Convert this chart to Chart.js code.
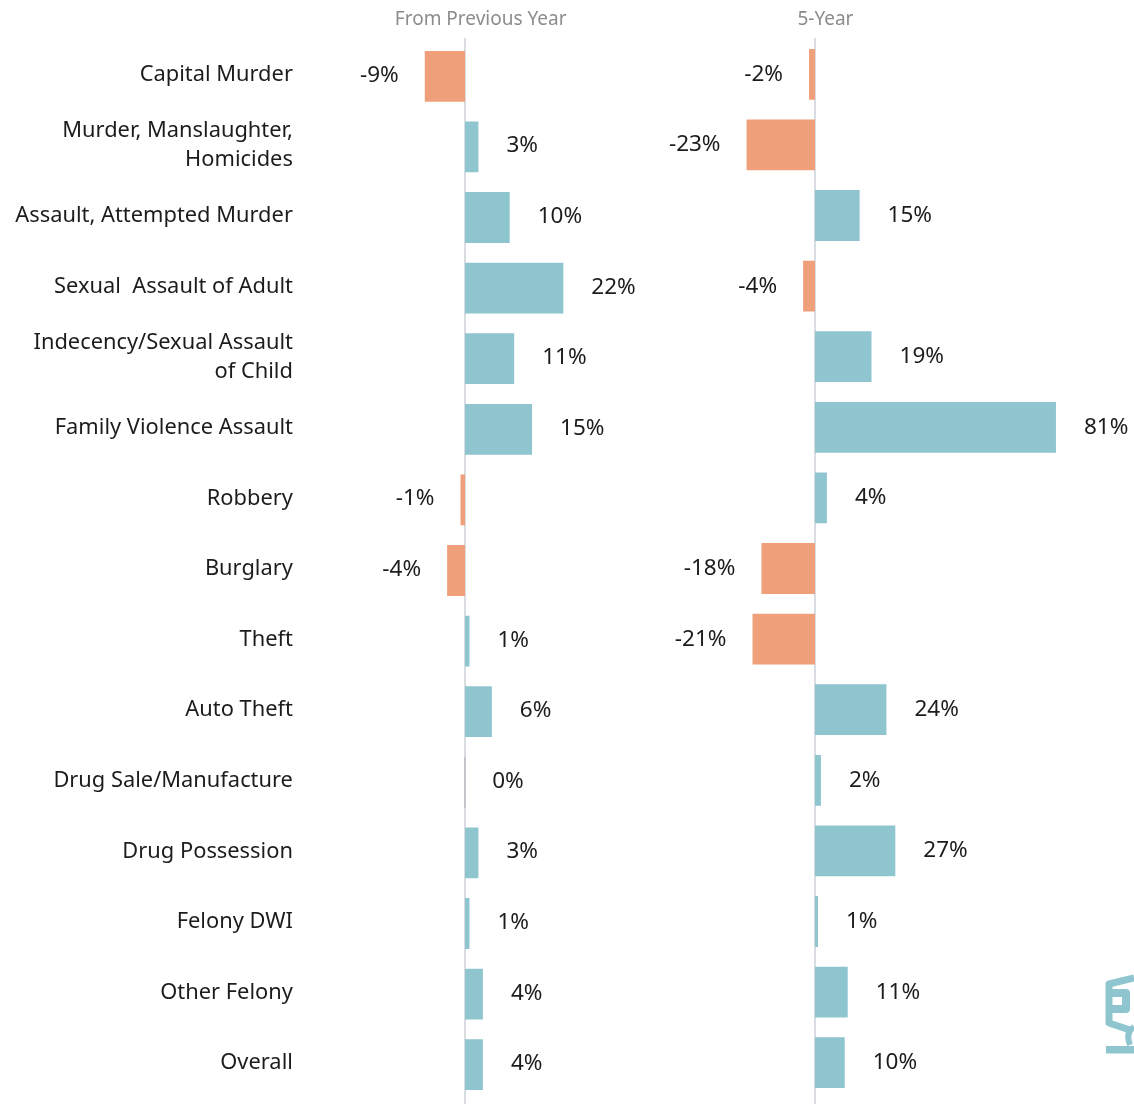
<!DOCTYPE html>
<html>
<head>
<meta charset="utf-8">
<script src="https://cdn.jsdelivr.net/npm/chart.js@4"></script>
<style>
html,body{margin:0;padding:0;background:#fff;overflow:hidden}
#wrap{position:relative;width:1134px;height:1104px}
canvas{position:absolute;top:0}
#logo{position:absolute;left:1100px;top:965px}
</style>
</head>
<body>
<div id="wrap">
<canvas id="c1" width="640" height="1104" style="left:0"></canvas>
<canvas id="c2" width="634" height="1104" style="left:500px"></canvas>
<svg id="logo" width="34" height="95" viewBox="0 0 34 95">
  <g fill="none" stroke="#8fc5cf" stroke-linejoin="round">
    <path stroke-width="7" d="M34 13 L9 19 L9 58 L30 65"/>
    <path stroke-width="8" d="M12 28 L26 28 L26 44 L12 44"/>
    <path stroke-width="6" d="M34 62 Q25 67 30 80"/>
  </g>
  <rect x="6" y="81" width="28" height="7.5" fill="#8fc5cf"/>
</svg>
</div>
<script>
const categories = [
  "Capital Murder",
  ["Murder, Manslaughter,", "Homicides"],
  "Assault, Attempted Murder",
  "Sexual  Assault of Adult",
  ["Indecency/Sexual Assault", "of Child"],
  "Family Violence Assault",
  "Robbery",
  "Burglary",
  "Theft",
  "Auto Theft",
  "Drug Sale/Manufacture",
  "Drug Possession",
  "Felony DWI",
  "Other Felony",
  "Overall"
];
const fromPreviousYear = [-9, 3, 10, 22, 11, 15, -1, -4, 1, 6, 0, 3, 1, 4, 4];
const fiveYear = [-2, -23, 15, -4, 19, 81, 4, -18, -21, 24, 2, 27, 1, 11, 10];

const TEAL = "#8fc5cf", ORANGE = "#ef9f7a", ZERO = "#bdbfc3", AXIS = "#d9dce1";
const INK = "#1c1c1c", MUTED = "#8c8c8c";
const FAMILY = '"Noto Sans", sans-serif';

const decorate = {
  id: "decorate",
  beforeDatasetsDraw(chart) {
    const { ctx, scales } = chart;
    const x = scales.x.getPixelForValue(0);
    ctx.save();
    ctx.strokeStyle = AXIS;
    ctx.lineWidth = 2;
    ctx.beginPath();
    ctx.moveTo(x, 38);
    ctx.lineTo(x, chart.height);
    ctx.stroke();
    ctx.restore();
  },
  afterDatasetsDraw(chart) {
    const { ctx } = chart;
    const values = chart.data.datasets[0].data;
    const dy = chart.options.layout.padding.bottom === 4 ? -1 : 0;
    ctx.save();
    ctx.font = "22.5px " + FAMILY;
    ctx.fillStyle = INK;
    ctx.textBaseline = "middle";
    chart.getDatasetMeta(0).data.forEach((bar, i) => {
      const v = values[i];
      ctx.textAlign = v < 0 ? "right" : "left";
      ctx.fillText(v + "%", bar.x + (v < 0 ? -26 : 28), bar.y + dy);
    });
    ctx.restore();
  }
};

function build(id, values, title, o) {
  return new Chart(document.getElementById(id), {
    type: "bar",
    data: {
      labels: categories,
      datasets: [{
        data: values,
        backgroundColor: values.map(v => v < 0 ? ORANGE : v === 0 ? ZERO : TEAL),
        categoryPercentage: 1,
        barPercentage: 0.72,
        minBarLength: 1.5,
        borderWidth: 0
      }]
    },
    options: {
      indexAxis: "y",
      responsive: false,
      animation: false,
      layout: { padding: o.padding },
      plugins: { legend: { display: false }, tooltip: { enabled: false }, title: { display: false } },
      scales: {
        x: {
          position: "top",
          min: o.min, max: o.max,
          afterFit(s) { s.height = o.top; },
          grid: { display: false },
          border: { display: false },
          ticks: { display: false },
          title: {
            display: true, text: title, color: MUTED,
            font: { family: FAMILY, size: 19 },
            padding: { top: 8, bottom: 0 }
          }
        },
        y: {
          display: o.showLabels,
          afterFit(s) { s.width = o.labelWidth; s.paddingTop = 0; s.paddingBottom = 0; },
          grid: { display: false, drawTicks: false },
          border: { display: false },
          ticks: {
            autoSkip: false,
            color: INK,
            padding: 38,
            labelOffset: -1.5,
            font: { family: FAMILY, size: 21.85, lineHeight: 1.32 }
          }
        }
      }
    },
    plugins: [decorate]
  });
}

build("c1", fromPreviousYear, "From Previous Year", {
  min: -30, max: 37, top: 41, showLabels: true, labelWidth: 330.9,
  padding: { left: 0, right: 9.6, top: 0, bottom: 4 }
});
build("c2", fiveYear, "5-Year", {
  min: -100, max: 107, top: 39, showLabels: false, labelWidth: 0,
  padding: { left: 17.5, right: 0.7, top: 0, bottom: 6 }
});
</script>
</body>
</html>
